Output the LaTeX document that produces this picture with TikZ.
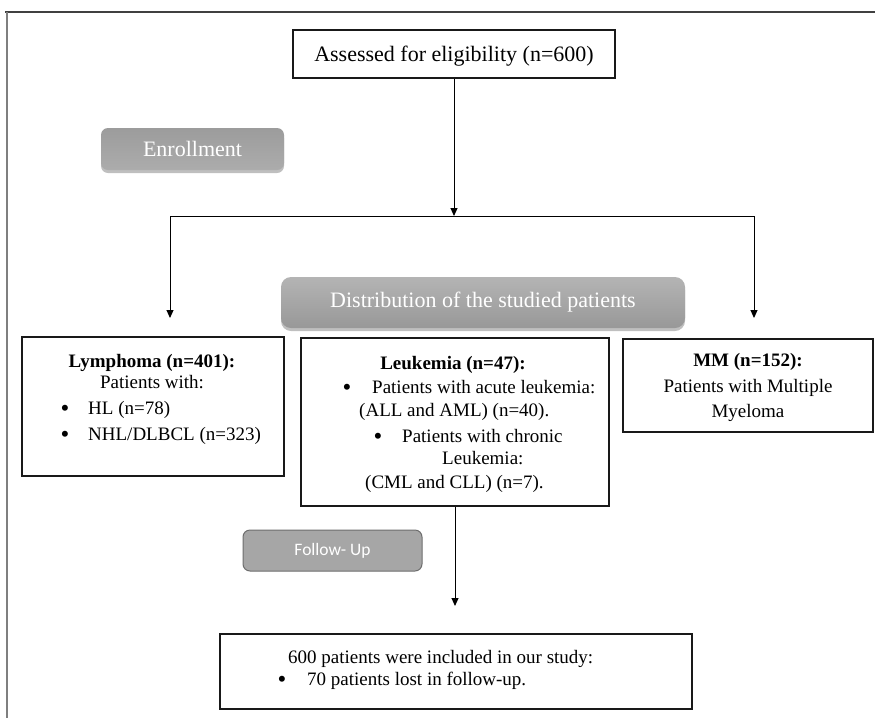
\documentclass[tikz,border=0pt]{standalone}
\usepackage{fontspec}
\setmainfont{Liberation Serif}
\newfontfamily\calibrifont{Carlito}
\usetikzlibrary{arrows.meta,shadows}
\definecolor{frametop}{HTML}{404040}
\definecolor{frameleft}{HTML}{7F7F7F}
\definecolor{tagtop}{HTML}{B4B4B4}
\definecolor{tagbot}{HTML}{989898}
\definecolor{enrtop}{HTML}{9C9C9C}
\definecolor{enrbot}{HTML}{ACACAC}
\definecolor{followfill}{HTML}{A6A6A6}
\definecolor{followdraw}{HTML}{6E6E6E}
\begin{document}
\begin{tikzpicture}[x=1pt,y=-1pt,
  box/.style={draw=black!90, line width=1.1pt, rectangle, inner sep=0pt},
  txt/.style={inner sep=0pt, font=\fontsize{19}{23}\selectfont},
  btxt/.style={inner sep=0pt, font=\fontsize{19}{23}\selectfont\bfseries},
  bul/.style={inner sep=0pt, font=\fontsize{25}{28}\selectfont},
  conn/.style={line width=1pt, black},
  arr/.style={conn, -{Triangle[length=8pt,width=7pt]}},
  tag/.style={rectangle, rounded corners=7pt, inner sep=0pt, draw=none,
    text=white, top color=tagtop, bottom color=tagbot,
    drop shadow={shadow xshift=0pt, shadow yshift=-3pt, opacity=0.25, fill=black}},
  followtag/.style={rectangle, rounded corners=7pt, inner sep=0pt,
    draw=followdraw, line width=1pt, fill=followfill, text=white,
    font=\calibrifont\fontsize{17.5}{20}\selectfont}
]
\useasboundingbox (0,0) rectangle (875,718);
\fill[white] (0,0) rectangle (875,718);

% outer frame (top and left edges)
\draw[frametop, line width=2pt] (5,12) -- (875,12);
\draw[frameleft, line width=2.5pt] (7,12) -- (7,718);

% boxes
\node[box, minimum width=322pt, minimum height=48pt] (top) at (454,54) {};
\node[txt, anchor=base, font=\fontsize{22}{25}\selectfont] (ttop) at (454,61) {Assessed for eligibility (n=600)};

\node[tag, top color=enrtop, bottom color=enrbot, minimum width=183pt, minimum height=42pt, font=\fontsize{22}{24}\selectfont] (enroll) at (192.5,149) {Enrollment};

\node[tag, rounded corners=10pt, minimum width=404pt, minimum height=51pt, font=\fontsize{22}{25}\selectfont] (dist) at (483,302.5) {Distribution of the studied patients};

\node[box, minimum width=262pt, minimum height=139pt] (lym) at (153,406.5) {};
\node[btxt, anchor=base] (l1) at (152,367) {Lymphoma (n=401):};
\node[txt, anchor=base] (l2) at (152,388) {Patients with:};
\node[bul, anchor=base] (l3b) at (65,416) {•};
\node[txt, anchor=base west] (l3) at (88,414) {HL (n=78)};
\node[bul, anchor=base] (l4b) at (65,442) {•};
\node[txt, anchor=base west] (l4) at (88,440) {NHL/DLBCL (n=323)};

\node[box, minimum width=308pt, minimum height=168pt] (leuk) at (455,422) {};
\node[btxt, anchor=base] (k1) at (453,369) {Leukemia (n=47):};
\node[bul, anchor=base] (k2b) at (347,395) {•};
\node[txt, anchor=base west] (k2) at (372,393) {Patients with acute leukemia:};
\node[txt, anchor=base west] (k3) at (359,416) {(ALL and AML) (n=40).};
\node[bul, anchor=base] (k4b) at (378,444) {•};
\node[txt, anchor=base west] (k4) at (402,442) {Patients with chronic};
\node[txt, anchor=base west] (k5) at (442,464) {Leukemia:};
\node[txt, anchor=base west] (k6) at (365,488) {(CML and CLL) (n=7).};

\node[box, minimum width=250pt, minimum height=93pt] (mm) at (748,385.5) {};
\node[btxt, anchor=base] (m1) at (748,366) {MM (n=152):};
\node[txt, anchor=base] (m2) at (748,392) {Patients with Multiple};
\node[txt, anchor=base] (m3) at (748,417) {Myeloma};

\node[followtag, minimum width=179pt, minimum height=41pt] (follow) at (332.5,550.5) {Follow- Up};

\node[box, minimum width=472pt, minimum height=75pt] (final) at (456,671.5) {};
\node[txt, anchor=base west] (f1) at (288,663) {600 patients were included in our study:};
\node[bul, anchor=base] (f2b) at (282,687) {•};
\node[txt, anchor=base west] (f2) at (307,685) {70 patients lost in follow-up.};

% connectors
\coordinate (jm) at (top.south |- 0,216);
\coordinate (jl) at (170,216);
\coordinate (jr) at (754,216);
\coordinate (el) at (170,318);
\coordinate (er) at (754,318);
\coordinate (eb) at (leuk.south |- 0,606);

\draw[arr] (top.south) -- (jm);
\draw[conn] (jl) -- (jr);
\draw[arr] (jl) -- (el);
\draw[arr] (jr) -- (er);
\draw[arr] (leuk.south) -- (eb);
\end{tikzpicture}
\end{document}
